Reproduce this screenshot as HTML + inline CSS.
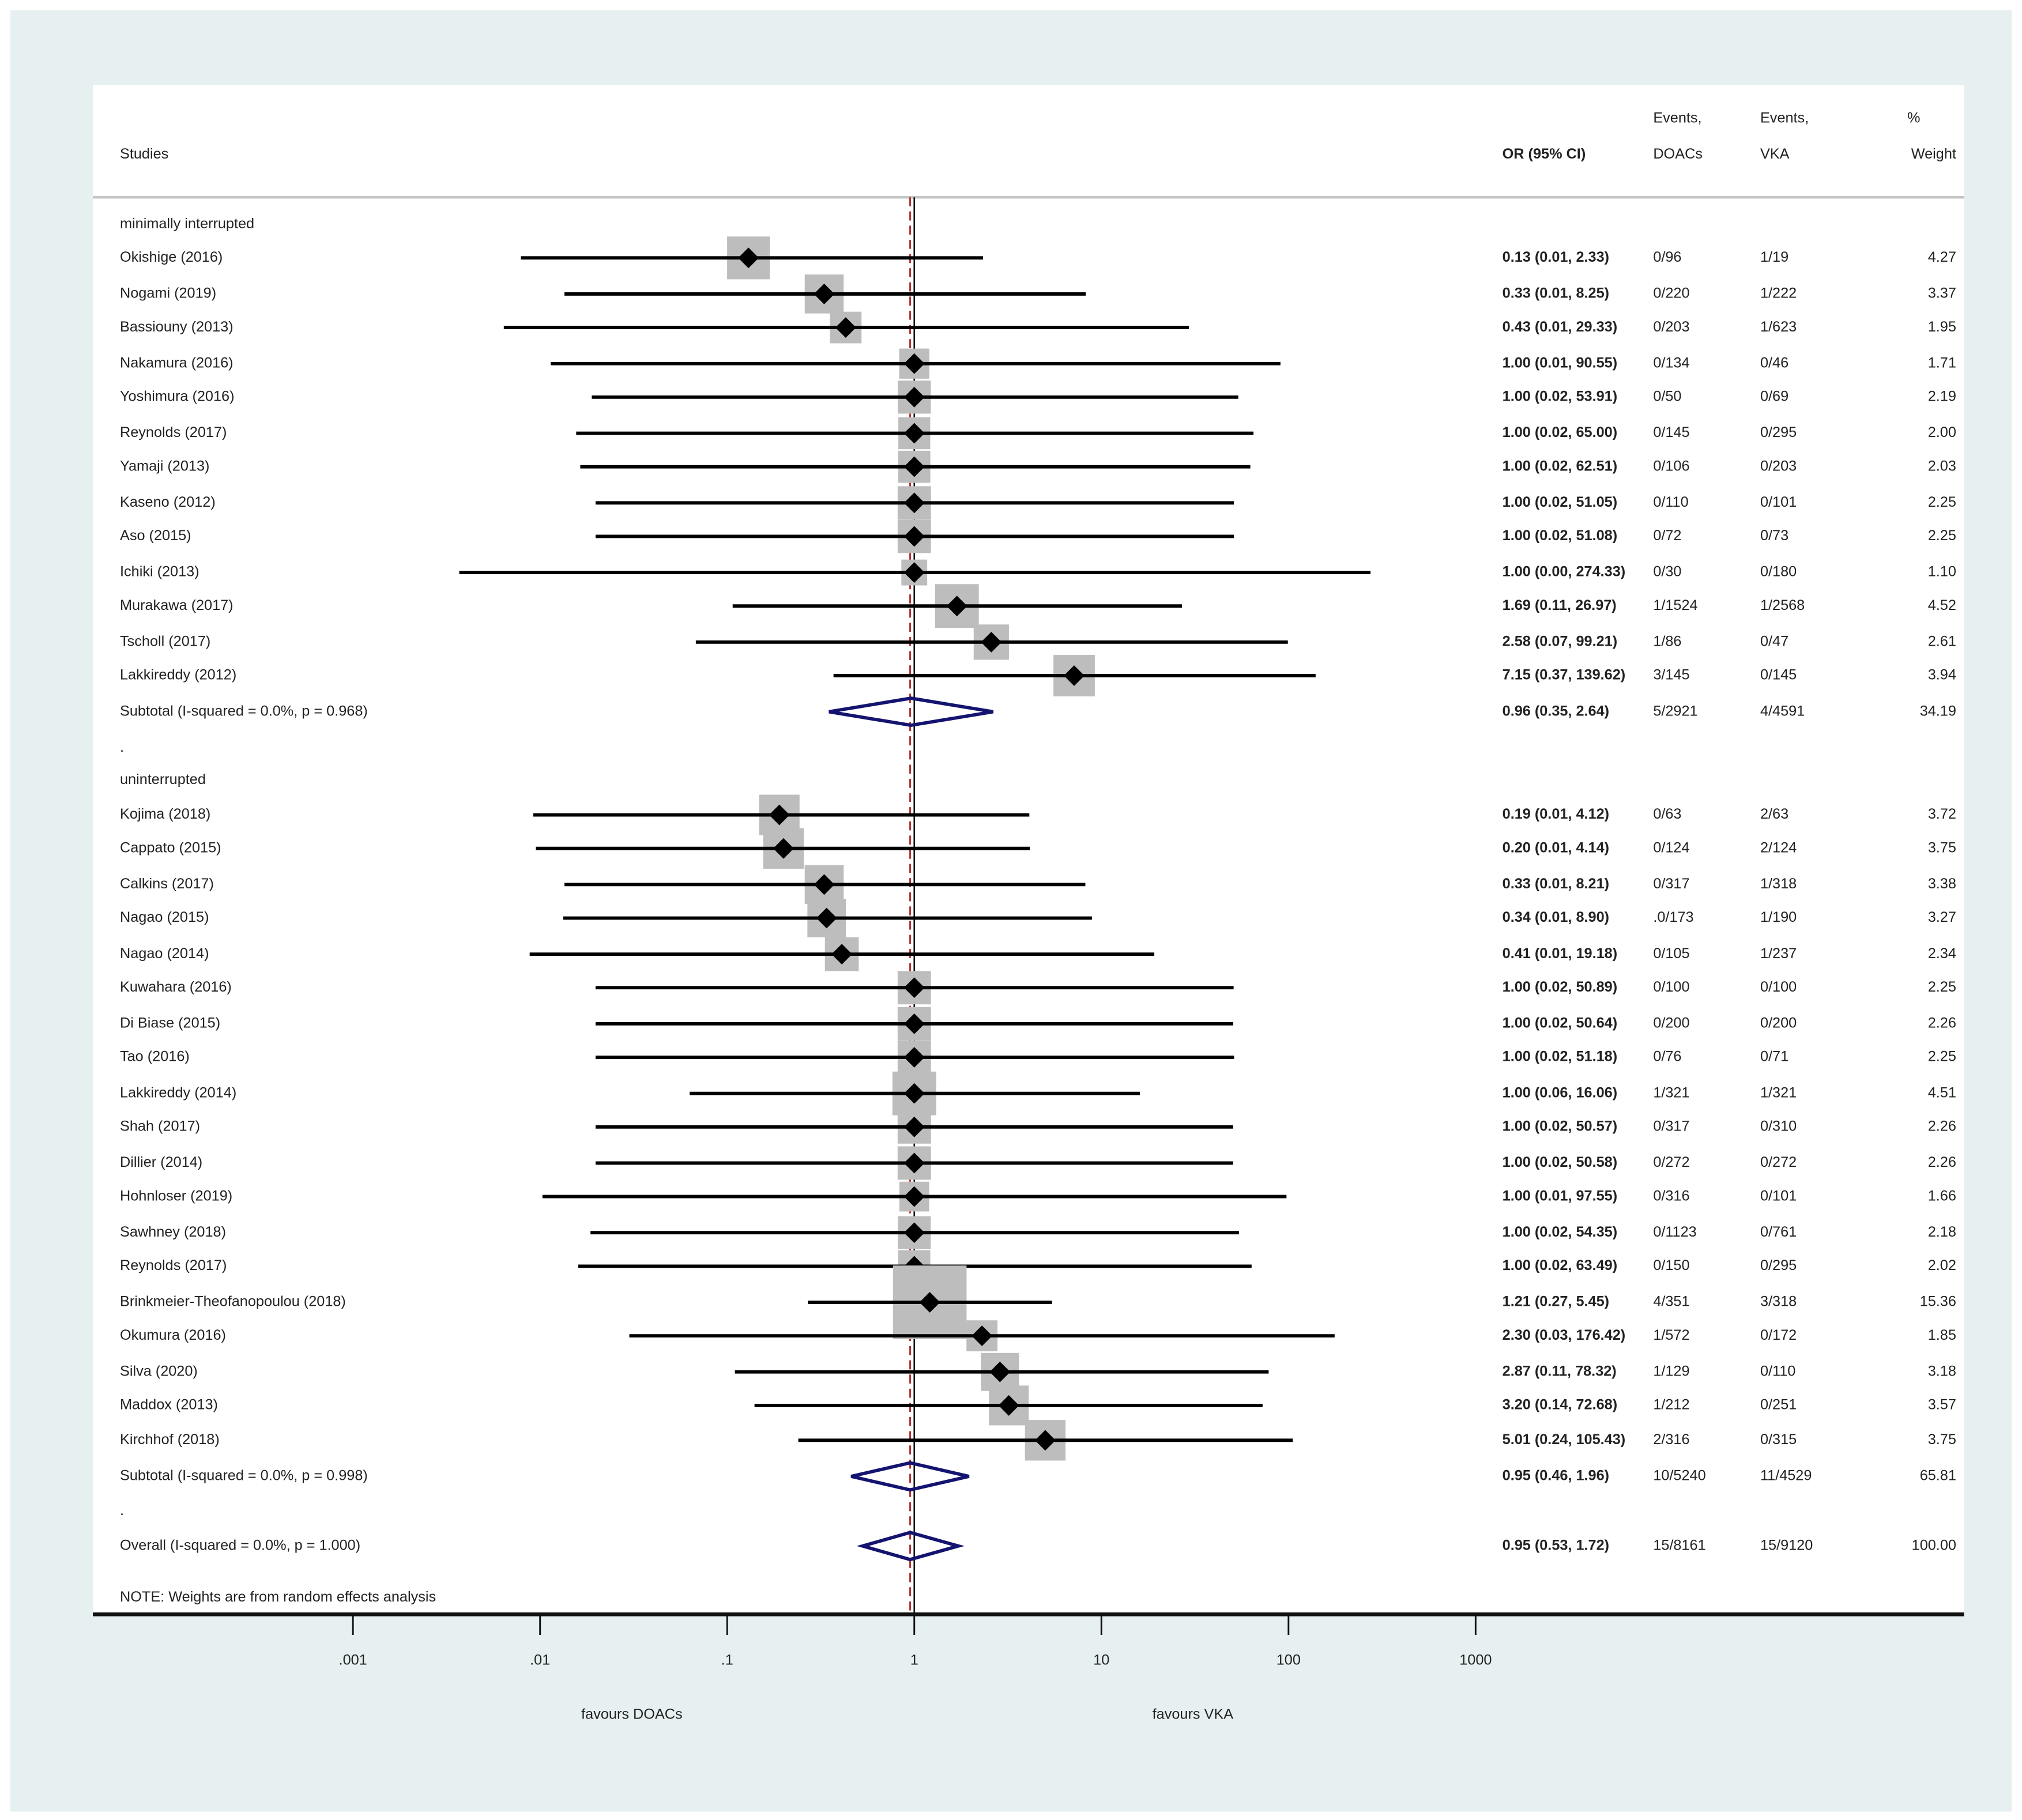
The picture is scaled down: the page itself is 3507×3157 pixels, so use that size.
<!DOCTYPE html>
<html><head><meta charset="utf-8">
<style>
html,body{margin:0;padding:0;background:#fff;}
svg{display:block;}
text{font-family:"Liberation Sans",Arial,sans-serif;font-size:11.3px;fill:#222;dominant-baseline:middle;}
.b{font-weight:bold;}
</style></head>
<body>
<svg id="chart" width="3507" height="3157" viewBox="0 0 1568 1411.5" preserveAspectRatio="none" xmlns="http://www.w3.org/2000/svg">
<rect x="0" y="0" width="1568" height="1411.5" fill="#ffffff"/>
<rect x="8" y="8" width="1552" height="1397" fill="#e6f0f1"/>
<rect x="72" y="66" width="1451" height="1186" fill="#ffffff"/>
<line x1="72" x2="1523" y1="153" y2="153" stroke="#c6c6c6" stroke-width="2"/>
<g id="marks"></g>
<line x1="72" x2="1523" y1="1252" y2="1252" stroke="#111" stroke-width="3"/>
<g id="axis"></g>
<text x="93" y="120">Studies</text>
<text class="b" x="1165" y="120">OR (95% CI)</text>
<text x="1282" y="92">Events,</text>
<text x="1282" y="120">DOACs</text>
<text x="1365" y="92">Events,</text>
<text x="1365" y="120">VKA</text>
<text x="1479" y="92">%</text>
<text x="1517" y="120" text-anchor="end">Weight</text>
<text x="490" y="1330" text-anchor="middle">favours DOACs</text>
<text x="925" y="1330" text-anchor="middle">favours VKA</text>
<text x="93" y="1239">NOTE: Weights are from random effects analysis</text>
</svg>
<script>
const studies=["Okishige (2016)","Nogami (2019)","Bassiouny (2013)","Nakamura (2016)","Yoshimura (2016)","Reynolds (2017)","Yamaji (2013)","Kaseno (2012)","Aso (2015)","Ichiki (2013)","Murakawa (2017)","Tscholl (2017)","Lakkireddy (2012)","Kojima (2018)","Cappato (2015)","Calkins (2017)","Nagao (2015)","Nagao (2014)","Kuwahara (2016)","Di Biase (2015)","Tao (2016)","Lakkireddy (2014)","Shah (2017)","Dillier (2014)","Hohnloser (2019)","Sawhney (2018)","Reynolds (2017)","Brinkmeier-Theofanopoulou (2018)","Okumura (2016)","Silva (2020)","Maddox (2013)","Kirchhof (2018)"];
const orValues=[0.13,0.33,0.43,1,1,1,1,1,1,1,1.69,2.58,7.15,0.19,0.20,0.33,0.34,0.41,1,1,1,1,1,1,1,1,1,1.21,2.30,2.87,3.20,5.01];
const ciLower=[0.0079,0.0135,0.0064,0.0114,0.0189,0.0156,0.0164,0.0198,0.0198,0.0037,0.107,0.068,0.37,0.0092,0.0095,0.0135,0.0133,0.0088,0.0198,0.0198,0.0198,0.063,0.0198,0.0198,0.0103,0.0186,0.016,0.27,0.030,0.11,0.14,0.24];
const ciUpper=[2.33,8.25,29.33,90.55,53.91,65.00,62.51,51.05,51.08,274.33,26.97,99.21,139.62,4.12,4.14,8.21,8.90,19.18,50.89,50.64,51.18,16.06,50.57,50.58,97.55,54.35,63.49,5.45,176.42,78.32,72.68,105.43];
const ciText=["0.13 (0.01, 2.33)","0.33 (0.01, 8.25)","0.43 (0.01, 29.33)","1.00 (0.01, 90.55)","1.00 (0.02, 53.91)","1.00 (0.02, 65.00)","1.00 (0.02, 62.51)","1.00 (0.02, 51.05)","1.00 (0.02, 51.08)","1.00 (0.00, 274.33)","1.69 (0.11, 26.97)","2.58 (0.07, 99.21)","7.15 (0.37, 139.62)","0.19 (0.01, 4.12)","0.20 (0.01, 4.14)","0.33 (0.01, 8.21)","0.34 (0.01, 8.90)","0.41 (0.01, 19.18)","1.00 (0.02, 50.89)","1.00 (0.02, 50.64)","1.00 (0.02, 51.18)","1.00 (0.06, 16.06)","1.00 (0.02, 50.57)","1.00 (0.02, 50.58)","1.00 (0.01, 97.55)","1.00 (0.02, 54.35)","1.00 (0.02, 63.49)","1.21 (0.27, 5.45)","2.30 (0.03, 176.42)","2.87 (0.11, 78.32)","3.20 (0.14, 72.68)","5.01 (0.24, 105.43)"];
const eventsDoac=["0/96","0/220","0/203","0/134","0/50","0/145","0/106","0/110","0/72","0/30","1/1524","1/86","3/145","0/63","0/124","0/317",".0/173","0/105","0/100","0/200","0/76","1/321","0/317","0/272","0/316","0/1123","0/150","4/351","1/572","1/129","1/212","2/316"];
const eventsVka=["1/19","1/222","1/623","0/46","0/69","0/295","0/203","0/101","0/73","0/180","1/2568","0/47","0/145","2/63","2/124","1/318","1/190","1/237","0/100","0/200","0/71","1/321","0/310","0/272","0/101","0/761","0/295","3/318","0/172","0/110","0/251","0/315"];
const weights=[4.27,3.37,1.95,1.71,2.19,2.00,2.03,2.25,2.25,1.10,4.52,2.61,3.94,3.72,3.75,3.38,3.27,2.34,2.25,2.26,2.25,4.51,2.26,2.26,1.66,2.18,2.02,15.36,1.85,3.18,3.57,3.75];
const pooledLabels=["Subtotal  (I-squared = 0.0%, p = 0.968)","Subtotal  (I-squared = 0.0%, p = 0.998)","Overall  (I-squared = 0.0%, p = 1.000)"];
const pooledOr=[0.96,0.95,0.95];
const pooledLower=[0.35,0.46,0.53];
const pooledUpper=[2.64,1.96,1.72];
const pooledText=["0.96 (0.35, 2.64)","0.95 (0.46, 1.96)","0.95 (0.53, 1.72)"];
const pooledDoac=["5/2921","10/5240","15/8161"];
const pooledVka=["4/4591","11/4529","15/9120"];
const pooledWeight=["34.19","65.81","100.00"];
const tickValues=[0.001,0.01,0.1,1,10,100,1000];
const tickLabels=[".001",".01",".1","1","10","100","1000"];

const NS="http://www.w3.org/2000/svg";
function xs(v){return 709+145.1*Math.log10(v);}
const studyRowY=[200,228,254,282,308,336,362,390,416,444,470,498,524,632,658,686,712,740,766,794,820,848,874,902,928,956,982,1010,1036,1064,1090,1117];
const pooledRowY=[552,1145,1199];
function mk(tag,attrs,parent){const e=document.createElementNS(NS,tag);for(const k in attrs)e.setAttribute(k,attrs[k]);parent.appendChild(e);return e;}
function txt(parent,x,y,s,cls,anchor){const t=mk('text',{x:x,y:y},parent);if(cls)t.setAttribute('class',cls);if(anchor)t.setAttribute('text-anchor',anchor);t.textContent=s;return t;}
const marks=document.getElementById('marks');
const axis=document.getElementById('axis');

const nl=mk('line',{x1:xs(1),x2:xs(1),y1:153,y2:1252,stroke:'#111','stroke-width':1.2},marks);


const ol=mk('line',{x1:xs(pooledOr[2]),x2:xs(pooledOr[2]),y1:153,y2:1252,stroke:'#b03030','stroke-width':1.3,'stroke-dasharray':'7,4'},marks);



const g1=txt(marks,93,174,'minimally interrupted');


const g2=txt(marks,93,605,'uninterrupted');


const d1=txt(marks,93,580,'.');


const d2=txt(marks,93,1172,'.');



for(let i=0;i<studies.length;i++){
  const y=studyRowY[i];
  const g=mk('g',{},marks);
  
  
  const s=6.5+12.9*Math.sqrt(weights[i]);
  const box=mk('rect',{x:xs(orValues[i])-s/2,y:y-s/2,width:s,height:s,fill:'#bdbdbd'},g);
  
  
  const ci=mk('line',{x1:xs(ciLower[i]),x2:xs(ciUpper[i]),y1:y,y2:y,stroke:'#000','stroke-width':2.6},g);
  
  
  const cx=xs(orValues[i]),r=8;
  const pt=mk('polygon',{points:`${cx},${y-r} ${cx+r},${y} ${cx},${y+r} ${cx-r},${y}`,fill:'#000'},g);
  
  
  const a=txt(g,93,y,studies[i]);
  
  
  const b=txt(g,1165,y,ciText[i],'b');
  
  
  const c=txt(g,1282,y,eventsDoac[i]);
  
  
  const d=txt(g,1365,y,eventsVka[i]);
  
  
  const e=txt(g,1517,y,weights[i].toFixed(2),null,'end');
  
  
}
for(let i=0;i<pooledOr.length;i++){
  const y=pooledRowY[i];
  const g=mk('g',{},marks);
  
  
  const l=xs(pooledLower[i]),c=xs(pooledOr[i]),u=xs(pooledUpper[i]),h=10.5;
  const dm=mk('polygon',{points:`${l},${y} ${c},${y-h} ${u},${y} ${c},${y+h}`,fill:'none',stroke:'#141470','stroke-width':2.6},g);
  
  
  const a=txt(g,93,y,pooledLabels[i]);
  
  
  const b=txt(g,1165,y,pooledText[i],'b');
  
  
  const cc=txt(g,1282,y,pooledDoac[i]);
  
  
  const d=txt(g,1365,y,pooledVka[i]);
  
  
  const e=txt(g,1517,y,pooledWeight[i],null,'end');
  
  
}
for(let i=0;i<tickValues.length;i++){
  const x=xs(tickValues[i]);
  const t=mk('line',{x1:x,x2:x,y1:1252,y2:1268,stroke:'#111','stroke-width':1.3},axis);
  
  
  const lb=txt(axis,x,1288,tickLabels[i],null,'middle');
  
  
}
</script>
</body></html>
